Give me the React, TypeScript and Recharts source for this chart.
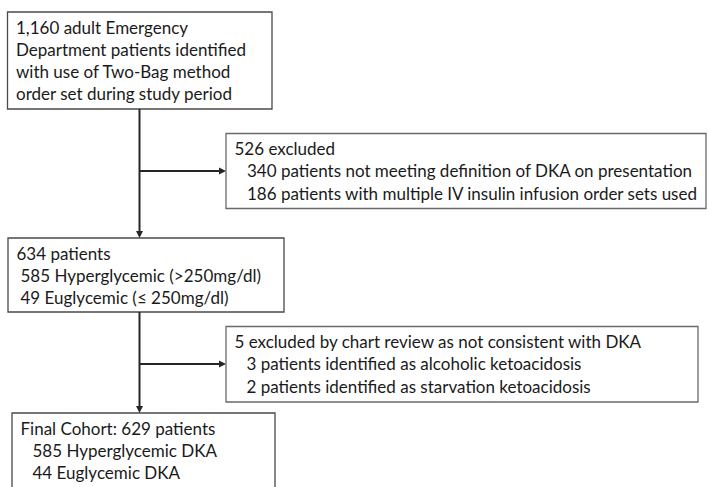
import { ComposedChart, ReferenceArea, ReferenceLine, XAxis, YAxis } from "recharts";

// box texts (first line is the heading, the rest are indented)
const screenedLines = [
  "1,160 adult Emergency",
  "Department patients identified",
  "with use of Two-Bag method",
  "order set during study period",
];
const excludedFirstLines = [
  "526 excluded",
  "340 patients not meeting definition of DKA on presentation",
  "186 patients with multiple IV insulin infusion order sets used",
];
const eligibleLines = [
  "634 patients",
  "585 Hyperglycemic (>250mg/dl)",
  "49 Euglycemic (\u2264 250mg/dl)",
];
const excludedReviewLines = [
  "5 excluded by chart review as not consistent with DKA",
  "3 patients identified as alcoholic ketoacidosis",
  "2 patients identified as starvation ketoacidosis",
];
const finalLines = [
  "Final Cohort: 629 patients",
  "585 Hyperglycemic DKA",
  "44 Euglycemic DKA",
];

const W = 708;
const H = 487;
const FONT = "Lato, 'Open Sans', sans-serif";
const TEXT = "#1a1a1a";

type Box = { x1: number; x2: number; y1: number; y2: number; lines: string[]; indent: number; stroke: string };

const boxes: Box[] = [
  { x1: 7.5, x2: 272, y1: 12, y2: 109, lines: screenedLines, indent: 0, stroke: "#4a4a4a" },
  { x1: 226, x2: 706, y1: 133.5, y2: 208.5, lines: excludedFirstLines, indent: 12.5, stroke: "#6a6a6a" },
  { x1: 8, x2: 284, y1: 238, y2: 312, lines: eligibleLines, indent: 4, stroke: "#4a4a4a" },
  { x1: 226, x2: 698, y1: 326.5, y2: 402, lines: excludedReviewLines, indent: 12, stroke: "#6a6a6a" },
  { x1: 12, x2: 275, y1: 413, y2: 495, lines: finalLines, indent: 12, stroke: "#4a4a4a" },
];

const arrows = [
  { from: { x: 139.5, y: 109 }, to: { x: 139.5, y: 238 } },
  { from: { x: 139.5, y: 171 }, to: { x: 226, y: 171 } },
  { from: { x: 139.5, y: 312 }, to: { x: 139.5, y: 413 } },
  { from: { x: 139.5, y: 364 }, to: { x: 226, y: 364 } },
];

function BoxText({ viewBox, lines, indent }: any) {
  if (!viewBox) return null;
  const { x, y } = viewBox;
  return (
    <text fontFamily={FONT} fontSize={17} fill={TEXT}>
      {lines.map((line: string, i: number) => (
        <tspan key={i} x={x + 8.5 + (i > 0 ? indent : 0)} y={y + 21.5 + i * 22.3}>
          {line}
        </tspan>
      ))}
    </text>
  );
}

function Arrow(props: any) {
  const { x1, y1, x2, y2 } = props;
  const len = Math.hypot(x2 - x1, y2 - y1) || 1;
  const ux = (x2 - x1) / len;
  const uy = (y2 - y1) / len;
  const hl = 7;
  const hw = 3.5;
  const bx = x2 - ux * hl;
  const by = y2 - uy * hl;
  const pts = `${x2},${y2} ${bx - uy * hw},${by + ux * hw} ${bx + uy * hw},${by - ux * hw}`;
  return (
    <g>
      <line x1={x1} y1={y1} x2={bx} y2={by} stroke="#262626" strokeWidth={2} />
      <polygon points={pts} fill="#262626" />
    </g>
  );
}

export default function App() {
  return (
    <div style={{ position: "absolute", left: 0, top: 0, width: W, height: H, background: "#fff" }}>
      <ComposedChart width={W} height={H} data={[]} margin={{ top: 0, right: 0, bottom: 0, left: 0 }}>
        <XAxis type="number" dataKey="x" domain={[0, W]} hide allowDataOverflow />
        <YAxis type="number" dataKey="y" domain={[0, H]} reversed hide allowDataOverflow />
        {boxes.map((b, i) => (
          <ReferenceArea
            key={`box-${i}`}
            x1={b.x1}
            x2={b.x2}
            y1={b.y1}
            y2={b.y2}
            ifOverflow="hidden"
            fill="#ffffff"
            fillOpacity={1}
            stroke={b.stroke}
            strokeWidth={1.3}
            label={<BoxText lines={b.lines} indent={b.indent} />}
          />
        ))}
        {arrows.map((a, i) => (
          <ReferenceLine
            key={`arrow-${i}`}
            segment={[a.from, a.to]}
            ifOverflow="visible"
            stroke="#262626"
            shape={<Arrow />}
          />
        ))}
      </ComposedChart>
    </div>
  );
}
